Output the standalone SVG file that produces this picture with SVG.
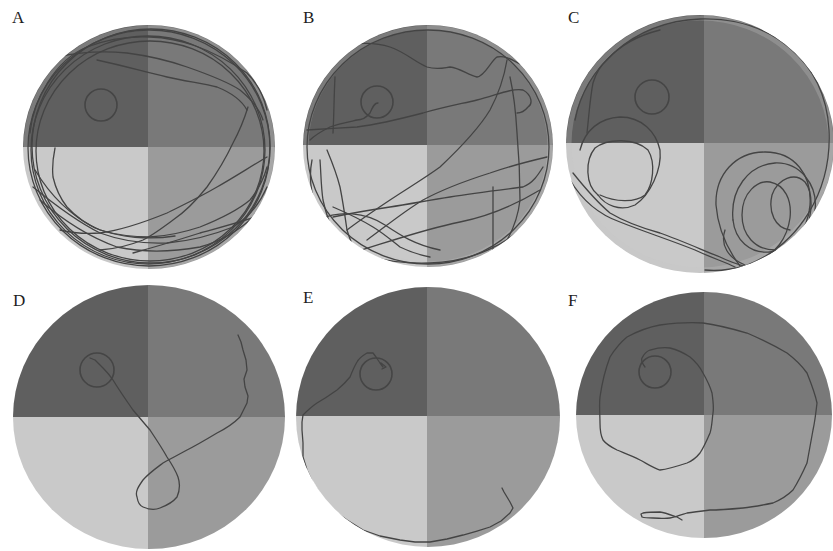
<svg xmlns="http://www.w3.org/2000/svg" width="833" height="551" viewBox="0 0 833 551">
<style>
.tl{fill:#5f5f5f}.tr{fill:#797979}.bl{fill:#c9c9c9}.br{fill:#9b9b9b}
.rim{fill:none;stroke:#c4c4c4;stroke-opacity:0.28;stroke-width:5}
.pf{fill:none;stroke:#454545;stroke-width:1.6}
.tk{fill:none;stroke:#444;stroke-width:1.3;stroke-linejoin:round;stroke-linecap:round}
.lb{font-family:"Liberation Serif","Times New Roman",serif;font-size:17px;fill:#1e1e1e}
</style>
<defs>
<clipPath id="cA"><ellipse cx="149" cy="147" rx="126" ry="122"/></clipPath>
<clipPath id="cB"><ellipse cx="428" cy="146" rx="125" ry="121"/></clipPath>
<clipPath id="cC"><ellipse cx="700" cy="144" rx="134" ry="129"/></clipPath>
<clipPath id="cD"><ellipse cx="149" cy="417" rx="136" ry="132"/></clipPath>
<clipPath id="cE"><ellipse cx="428" cy="417" rx="132" ry="130"/></clipPath>
<clipPath id="cF"><ellipse cx="704" cy="415" rx="128" ry="123"/></clipPath>
</defs>
<rect width="833" height="551" fill="#ffffff"/>

<g id="panelA">
<text class="lb" x="12" y="23">A</text>
<g clip-path="url(#cA)">
<rect class="tl" x="20" y="20" width="128" height="127"/>
<rect class="tr" x="148" y="20" width="130" height="127"/>
<rect class="bl" x="20" y="147" width="128" height="130"/>
<rect class="br" x="148" y="147" width="130" height="130"/>
<ellipse class="rim" cx="149" cy="147" rx="123" ry="119"/>
<circle class="pf" cx="101" cy="105" r="16"/>
<ellipse class="tk" cx="149" cy="148" rx="121" ry="118"/>
<ellipse class="tk" cx="151" cy="146" rx="119" ry="117"/>
<ellipse class="tk" cx="148" cy="150" rx="117" ry="114"/>
<ellipse class="tk" cx="150" cy="151" rx="114" ry="110"/>
<path class="tk" d="M30,133 C33,100 55,60 87,47 C110,38 130,36 150,37 C180,38 210,48 247,73 C258,84 264,97 267,110"/>
<path class="tk" d="M58,57 C80,52 105,51 127,53 C150,56 170,61 187,67 C210,75 228,82 240,90 C252,100 260,110 263,120"/>
<path class="tk" d="M97,60 C125,66 145,72 167,77 C185,81 205,84 217,87 C232,93 242,101 247,110"/>
<path class="tk" d="M248,107 C244,120 240,130 233,143 C225,160 217,173 207,187 C195,202 185,212 173,220 C162,228 153,235 143,240 C128,246 115,249 100,250"/>
<path class="tk" d="M55,148 C53,158 52,168 53,177 C56,190 60,198 67,207 C77,218 88,225 100,230 C117,235 133,237 150,237 C168,236 185,232 200,227 C220,219 238,210 250,200 C258,190 264,178 267,167"/>
<path class="tk" d="M33,187 C55,205 78,222 100,233 C122,241 145,244 167,243 C190,241 213,235 233,227 C248,218 260,203 267,187"/>
<path class="tk" d="M40,200 C65,222 92,238 117,247 C145,253 172,252 200,247 C225,240 247,225 263,207"/>
<path class="tk" d="M267,157 C250,167 233,178 217,187 C200,197 183,205 167,213 C145,222 122,230 100,233 C85,234 72,233 60,230"/>
<path class="tk" d="M267,213 C245,221 222,227 200,233 C178,240 155,247 133,253"/>
<path class="tk" d="M35,170 C50,195 70,215 95,228 C120,238 150,240 175,236"/>
</g>
</g>

<g id="panelB">
<text class="lb" x="303" y="23">B</text>
<g clip-path="url(#cB)">
<rect class="tl" x="300" y="22" width="127" height="123"/>
<rect class="tr" x="427" y="22" width="130" height="123"/>
<rect class="bl" x="300" y="145" width="127" height="125"/>
<rect class="br" x="427" y="145" width="130" height="125"/>
<ellipse class="rim" cx="428" cy="146" rx="122" ry="118"/>
<circle class="pf" cx="377" cy="102" r="16"/>
<ellipse class="tk" cx="428" cy="147" rx="121" ry="117"/>
<path class="tk" d="M312,160 C306,190 318,225 345,245 C370,260 400,264 430,263 C470,262 510,245 535,215"/>
<path class="tk" d="M337,48 C355,42 375,42 390,47 C405,52 415,62 427,67 C437,70 443,68 450,67 C460,68 468,75 477,77 C485,76 490,62 497,57 C505,55 512,60 520,64"/>
<path class="tk" d="M307,130 C325,129 340,128 357,127 C380,124 400,119 423,113 C440,108 460,104 477,100 C495,96 510,88 523,90 C532,95 533,104 528,107 C524,112 520,113 517,113"/>
<path class="tk" d="M378,103 C374,103 372,108 370,113 C366,118 362,120 357,120 C348,122 338,124 330,127 C322,131 315,135 310,140"/>
<path class="tk" d="M347,230 C360,220 375,210 390,200 C408,188 425,178 440,167 C458,150 478,130 490,110 C498,95 504,78 507,60"/>
<path class="tk" d="M367,240 C385,227 403,212 423,200 C445,188 468,180 490,173 C510,166 530,161 547,157"/>
<path class="tk" d="M333,217 C352,213 370,210 390,207 C410,204 430,200 450,197 C475,193 500,190 523,187 C533,183 538,175 543,167"/>
<path class="tk" d="M493,187 L493,253"/>
<path class="tk" d="M510,77 C514,95 516,115 517,133 C519,155 520,178 520,200 C518,218 512,233 503,247"/>
<path class="tk" d="M327,150 C332,162 337,175 340,187 C343,202 345,216 347,230 C350,240 353,247 357,253"/>
<path class="tk" d="M320,160 C321,173 321,187 323,200 C326,214 331,228 337,240"/>
<path class="tk" d="M333,207 C347,213 360,219 373,227 C383,233 391,240 400,247 C410,252 420,255 430,257"/>
<path class="tk" d="M335,77 C334,95 334,115 333,133"/>
<path class="tk" d="M318,220 C340,210 365,212 385,225 C400,235 415,245 440,250"/>
<path class="tk" d="M345,255 C380,245 420,230 460,222 C490,216 515,205 540,190"/>
</g>
</g>

<g id="panelC">
<text class="lb" x="568" y="23">C</text>
<g clip-path="url(#cC)">
<rect class="tl" x="564" y="12" width="140" height="131"/>
<rect class="tr" x="704" y="12" width="132" height="131"/>
<rect class="bl" x="564" y="143" width="140" height="134"/>
<rect class="br" x="704" y="143" width="132" height="134"/>
<ellipse class="rim" cx="700" cy="144" rx="131" ry="126"/>
<circle class="pf" cx="652" cy="97" r="17"/>
<path class="tk" d="M575,120 C585,70 630,22 700,19 C770,17 825,60 829,130 C832,190 800,245 745,266 C730,270 715,271 705,270"/>
<path class="tk" d="M587,133 C589,115 590,98 593,83 C596,73 600,66 607,60 C620,45 640,35 660,30"/>
<path class="tk" d="M580,150 C585,130 600,118 620,117 C642,117 656,132 660,150 C662,170 650,195 635,205 C620,212 605,205 598,195"/>
<path class="tk" d="M598,195 C585,185 585,160 595,148 C608,138 635,138 648,150 C656,163 653,185 645,195 C635,203 615,202 600,195"/>
<path class="tk" d="M573,173 C585,188 597,202 610,213 C625,222 642,228 660,233 C680,240 700,249 720,257 C730,262 740,265 747,267"/>
<path class="tk" d="M570,180 C582,200 600,215 620,222 C645,232 670,240 695,250 C712,258 725,262 735,267"/>
<path class="tk" d="M740,266 C728,250 718,230 716,205 C715,175 735,152 765,152 C795,152 812,175 810,205 C808,232 790,250 770,252 C750,254 735,240 733,220"/>
<path class="tk" d="M733,220 C730,190 748,165 775,163 C800,162 818,185 815,210 C812,238 795,252 775,250"/>
<path class="tk" d="M775,250 C755,250 742,235 742,215 C742,192 758,180 770,182 C785,185 792,200 790,218 C787,240 775,252 760,262"/>
<path class="tk" d="M790,230 C775,228 768,212 772,195 C778,178 795,172 805,182 C815,195 812,225 800,240 C790,252 780,260 770,266"/>
<path class="tk" d="M725,230 C720,245 728,258 745,265"/>
</g>
</g>

<g id="panelD">
<text class="lb" x="13" y="306">D</text>
<g clip-path="url(#cD)">
<rect class="tl" x="10" y="282" width="138" height="135"/>
<rect class="tr" x="148" y="282" width="140" height="135"/>
<rect class="bl" x="10" y="417" width="138" height="135"/>
<rect class="br" x="148" y="417" width="140" height="135"/>
<circle class="pf" cx="97" cy="370" r="17"/>
<path class="tk" d="M238,335 L241,342 L243,350 L246,360 L247,370 L244,379 L245,387 L248,396 L247,403 L243,411 L240,417 C232,425 225,429 217,433 C207,439 197,445 187,450 C178,455 170,459 163,463 C155,469 148,474 143,480 C138,487 135,492 137,497 C138,503 140,506 143,507 C150,510 155,510 160,508 C168,505 173,502 177,497 C180,490 180,483 178,477 C175,469 171,463 167,457 C162,448 156,439 150,430 C144,423 138,416 133,410 C126,400 119,390 113,380 C109,374 106,371 103,368 L99,364 L95,360 L90,358"/>
</g>
</g>

<g id="panelE">
<text class="lb" x="303" y="303">E</text>
<g clip-path="url(#cE)">
<rect class="tl" x="294" y="285" width="133" height="131"/>
<rect class="tr" x="427" y="285" width="136" height="131"/>
<rect class="bl" x="294" y="416" width="133" height="134"/>
<rect class="br" x="427" y="416" width="136" height="134"/>
<circle class="pf" cx="376" cy="374" r="16"/>
<path class="tk" d="M383,367 L380,363 L376,357 L373,353 L367,353 C362,356 359,358 357,362 C354,367 352,372 350,377 C346,382 342,386 337,390 C330,395 324,399 317,403 C311,407 307,411 303,415 L302,422 L302,430 L303,443 L303,457 L307,470 L313,483 L322,497 L333,510 L347,520 L363,530 L380,536 L400,540 L415,542 L430,542 L447,539 L463,535 L477,531 L490,527 L501,521 L510,513 L513,508 L510,502 L507,497 L504,492 L502,488"/>
<path class="tk" d="M381,363 L386,367 L382,369"/>
</g>
</g>

<g id="panelF">
<text class="lb" x="568" y="306">F</text>
<g clip-path="url(#cF)">
<rect class="tl" x="574" y="290" width="130" height="125"/>
<rect class="tr" x="704" y="290" width="131" height="125"/>
<rect class="bl" x="574" y="415" width="130" height="126"/>
<rect class="br" x="704" y="415" width="131" height="126"/>
<circle class="pf" cx="655" cy="372" r="16"/>
<path class="tk" d="M645,367 C642,363 641,360 642,358 C644,354 647,351 650,350 C657,348 663,347 670,348 C678,350 684,353 690,357 C696,362 700,367 703,373 C707,380 710,386 712,393 C713,400 714,407 713,413 C712,420 712,427 710,433 C707,440 704,447 700,453 C696,458 692,461 687,463 C678,466 669,469 660,470 C653,468 646,463 640,460 C632,456 624,453 617,450 C611,447 606,444 603,440 C600,434 600,429 600,423 C600,414 599,405 600,397 C602,383 605,370 610,357 C615,349 621,342 627,337 C638,331 649,327 660,325 C675,323 689,322 703,323 C718,325 733,329 747,333 C761,339 775,346 787,353 C795,359 802,366 807,373 C811,383 815,393 817,403 C816,412 815,421 813,430 C811,441 809,452 807,463 C803,472 798,482 793,490 C787,496 780,500 773,503 C763,505 753,507 743,508 C732,509 721,510 710,510 C702,511 694,512 687,513 C681,515 676,517 670,518 C664,519 659,518 653,518 C648,518 645,518 642,517 L641,514 L643,513 C649,512 654,512 660,512 C666,513 671,515 677,517 L682,520"/>
</g>
</g>
</svg>
